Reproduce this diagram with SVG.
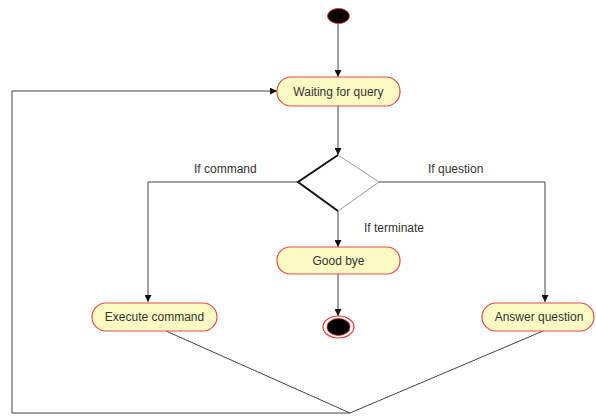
<svg xmlns="http://www.w3.org/2000/svg" width="596" height="417" viewBox="0 0 596 417">
<style>
.node rect{fill:#fdfbc4;stroke:#e84a4a;stroke-width:1.2}
.lbl{font-family:"Liberation Sans",Arial,sans-serif;font-size:12px;fill:#333;text-anchor:middle}
.edge{font-family:"Liberation Sans",Arial,sans-serif;font-size:12px;fill:#333}
.c line,.c polyline{stroke:#444;stroke-width:1;fill:none}
</style>
<defs>
<marker id="ah" viewBox="0 0 10 10" refX="10" refY="5" markerWidth="7" markerHeight="7" orient="auto" markerUnits="userSpaceOnUse">
<path d="M0,0 L10,5 L0,10 z" fill="#111"/>
</marker>
</defs>
<rect width="596" height="417" fill="#fff"/>
<g id="connectors" class="c">
<line x1="338" y1="24" x2="338" y2="77" marker-end="url(#ah)"/>
<line x1="338" y1="106" x2="338" y2="155" marker-end="url(#ah)"/>
<polyline points="298,182 148,182 148,302" marker-end="url(#ah)"/>
<polyline points="379,182 545,182 545,302" marker-end="url(#ah)"/>
<line x1="338" y1="211" x2="338" y2="247" marker-end="url(#ah)"/>
<line x1="338" y1="274" x2="338" y2="316" marker-end="url(#ah)"/>
<polyline points="166,331 350,413 543,331"/>
<polyline points="350,413 12,413 12,91 277,91" marker-end="url(#ah)"/>
</g>
<g id="labels">
<text class="edge" x="194" y="173">If command</text>
<text class="edge" x="428" y="173">If question</text>
<text class="edge" x="364" y="232">If terminate</text>
</g>
<g id="start">
<ellipse cx="338.5" cy="16" rx="11" ry="7.5" fill="#000" stroke="#d33" stroke-width="1"/>
</g>
<g id="waiting" class="node">
<rect x="277" y="77" width="123" height="29" rx="14"/>
<text class="lbl" x="338.5" y="95.5">Waiting for query</text>
</g>
<g id="decision">
<polygon points="338,155 379,182 338,211 298,182" fill="#fff" stroke="none"/>
<polyline points="338,155 298,182 338,211" fill="none" stroke="#111" stroke-width="2"/>
<polyline points="338,155 379,182 338,211" fill="none" stroke="#999" stroke-width="1"/>
</g>
<g id="goodbye" class="node">
<rect x="277" y="247" width="123" height="27" rx="13"/>
<text class="lbl" x="338.5" y="265">Good bye</text>
</g>
<g id="end">
<ellipse cx="338.5" cy="327" rx="15.5" ry="11" fill="#fff" stroke="#e33" stroke-width="1.2"/>
<ellipse cx="338.5" cy="327" rx="11.5" ry="8.5" fill="#000" stroke="#c22" stroke-width="0.8"/>
</g>
<g id="execute" class="node">
<rect x="92" y="303" width="125" height="28" rx="14"/>
<text class="lbl" x="154.5" y="321">Execute command</text>
</g>
<g id="answer" class="node">
<rect x="482" y="303" width="112" height="28" rx="14"/>
<text class="lbl" x="539" y="321">Answer question</text>
</g>
</svg>
